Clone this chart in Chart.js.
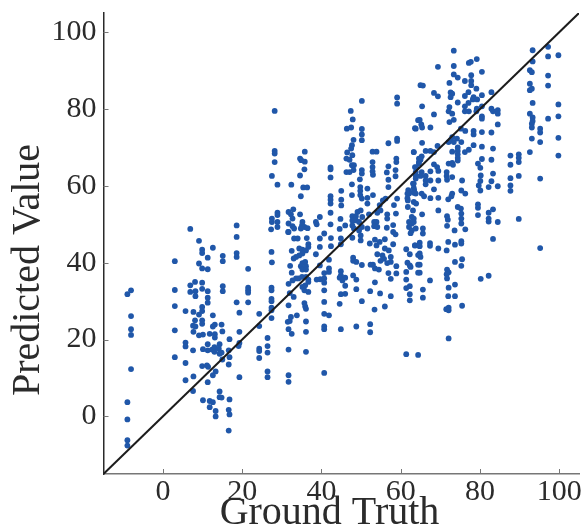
<!DOCTYPE html>
<html>

<head>
  <title>Predicted Value vs Ground Truth</title>
  <script src="https://cdn.jsdelivr.net/npm/chart.js"></script>
  <style>
    html, body { margin: 0; padding: 0; background: #fff; overflow: hidden; }
    #chart { display: block; }
  </style>
</head>

<body>
  <canvas id="chart" width="583" height="526" style="width:583px;height:526px"></canvas>

  <script>
    const xTicks = [0, 20, 40, 60, 80, 100];
    const yTicks = [0, 20, 40, 60, 80, 100];
    const identityLine = [-15, 105];

    // ground truth, one row per group of nearby columns
    const groundTruth = [
      -8.05,-8.97,-8.05,-8.05,-8.05,-8.05,-8.97,-8.97,-8.97,-8.97,
      3,3,3,3,3,5.7,5.7,5.7,5.7,5.7,6.9,6.9,6.9,7.7,7.6,7.7,7.6,7.7,7.6,8.1,8.2,8.2,8.1,8.2,
      9.1,9.1,9.1,9.1,9.9,9.9,9.9,9.9,9.9,9.9,9.9,9.9,9.9,10.1,10.1,9.9,10.1,
      11.3,11.3,11.3,11.3,11.3,11.3,11.3,11.1,11.4,11.3,11.8,11.8,12.6,12.6,12.6,13.1,11.8,13.1,13.1,12.4,13,13,12.6,12.6,13.3,13.3,13.3,
      14.3,14.1,14.3,14.8,15,14.3,14.3,14.8,14.8,15,15.1,15.1,15.1,15.1,
      16.8,16.6,16.8,16.6,16.8,16.6,16.8,16.6,18.6,18.6,18.6,18.6,18.6,19.3,19.3,19.3,19.1,19.3,
      21.5,21.5,21.5,21.5,21.5,24.3,24.3,24.3,24.3,24.3,
      28.2,28.2,28.2,28.2,27.5,28.9,32.4,35.8,34.6,34.9,35.8,35.7,34.6,35.4,36.4,34.8,
      27.5,27.5,27.3,28.9,28.9,28.9,28.9,31.7,32.9,32.3,32.7,31.7,32.7,33.1,31.6,34.6,
      35.2,35.1,35.7,34.8,36.5,38.6,38.8,39.6,42.3,42.3,42.3,42.3,42.3,42.3,42.3,42.3,
      45,45,45,44.8,46,44.6,47.4,47.9,46.4,47.5,50.2,50.2,50.2,50.2,48.1,47.7,47.5,46.5,47.8,46.3,47.1,47.7,48.2,
      46.3,47.1,48.1,50.2,50.2,49.7,47.7,47.7,49.8,49.8,49.8,50.2,51.6,51.6,53,51.6,
      52.9,53.9,52.9,52.9,52.9,53,56.9,56.9,56.5,56.9,56.9,59.1,59.1,59.1,59.1,58.9,58.9,58.7,58.7,
      63.8,63.3,63.9,63.8,64.4,64.6,64.6,63.8,63.1,63.4,63.8,61.9,61.7,61.8,61.8,63.3,63.9,63.1,
      56.2,55.5,54.7,54.9,54.1,58.3,59.1,49.9,49.1,52,47.8,48.7,47.8,48.7,47.8,48.2,49.5,50.3,50.2,49.5,51.6,
      53.3,53.9,53.3,54.1,56.6,56.6,56.5,58.1,58.8,58.1,58.7,62.8,63.3,62.1,62.8,63.3,62.1,62.8,63.8,
      73.4,69.4,73.4,73.4,74.4,77.2,77.7,79.2,80.5,77.8,77.8,77.8,76.2,72.3,65,65.6,68.4,69.4,
      72.6,73,72.6,77.1,76.2,79.1,80.5,82.9,78.4,78.2,79.3,77.1,76.2,74.4,76.2,77.2,72.3,72.1,73,65.4,68.4,
      79.2,80.5,79.1,82.9,83.3,84.5,84.5,80.5,80.5,84.5,73.4,72.3,64.8,65.2,65.4,63.6,67.5,75.2,76.3,
      78.4,78.4,80.5,82.9,73,72.6,72.1,74.2,75.3,73.4,65.4,69.3,78.4,80.5,83.3,66.3,67.5,68.4,63.3,73,
      74.4,74.4,74.4,74.4,74.4,77.2,76.2,65.3,65,64.6,80.5,82.9,87.7,87.7,89.8,89.8,89.8,92.6,
      93.3,93.3,97.2,97.2,99.8,92.6,93.1,97.2,97.2,92.6,92.6,93.1,93.3,92.6,93.3,93.3,93.1,93.1,99.8,99.8,97.2,95.2,95.2,93.1,95.2,99.8,99.8,
      68.4,69.2,69.5,72.1,73,73.2,79.5,80.1,63.6,65.3,65,66.3,67.5,71.6,71.6,71.7,73,80.2,83.3,87.7,89.8,95.2,63.8,
      75.5,80.1,79.7,82.9,82.2,84.5,66.3,66.3,67.5,69.5,63.3,63.3,62.1,62.1,63.3,68.4,87.7,87.7,75.3,76.3,80.1,73,72.8,
      65.3,65.9,67.5,69.5,72,61.7,
      65.4,69.5,74.4,75.2,75.3,75.3,75.3,76.3,79.5,79.5,79.5,82.2,83.3,82.2,82.2,84.5,89.8,71.7,71.9,71.7,73.6,65.6,65.6,
      63.6,64.8,64.8,67.4,67.4,69.5,72,73.7,75.3,75.3,71.6,83.3,95.2,64.8,65,64.8,64.8,73.7,75.5,75.3,71.7,72.1,71.6,71.7,67.4,
      80.2,82.2,73.7,72.1,65.6,65.6,72,73.7,75.5,71.5,72.1,72.1,72.1,
      27.4,27.5,27.4,27.4,27.4,27.4,27.4,27.4,27.4,26.4,26.4,26.4,26.4,26.4,31.7,33.1,34,36.3,32.5,34.4,35.2,
      36.7,36.7,36.1,35.2,34.4,33.6,33,39.6,38.6,32.1,35.2,35.9,34.8,36.1,35.2,36.1,32.5,33.6,32.7,31.7,
      35.1,34.2,36.1,36.7,36.7,35.9,35.2,35.7,36.7,32,33,31.7,35.7,35.9,36.1,32.3,32,31.5,33.8,31.7,32.5,36.1,36.1,31.7,36.1,31.7,31.7,40.7,
      39.6,40.7,42.4,44.9,42.4,39.6,41.9,40.7,41.9,41.9,38.8,39.7,40.7,40.7,40.7,40.7,40.7,41.9,40.7,40.7,
      44.9,44.9,44.6,46,45.3,46,44.9,46,44.6,44.9,48,48,48.8,50.2,48,48.8,48.8,50.2,48.8,
      52.4,53,53.5,54.5,53.5,52.3,54.8,53.4,56,52.3,52.3,52.2,53.5,53.9,54.7,56,54.1,55.4,56,57,57.5,
      54.9,55.8,56.6,57.5,58.9,56.9,58.9,57.5,57.5,58.1,61.4,62.3,63.6,64.6,64.4,64.4,64.4,61.7,62.3,62.5,
      61.4,61.4,61.4,62.3,62.3,62.3,61.4,64.4,49.9,49.9,47.8,44.9,62.5
    ];

    const predictedValue = [
      32.8,31.8,26.1,22.7,21.2,12.3,3.7,-0.8,-6.2,-7.6,
      40.4,32.9,28.7,22.4,15.4,27.4,19.2,18.2,13.9,9.4,48.8,34.1,32.4,27.2,23.6,22,17.2,10.4,6.6,35,32.6,31.3,25,23.4,
      45.7,39.8,26.5,21.1,43.4,42.5,38.5,34.8,33.2,28.5,27.4,25,24.1,21.3,17.5,13.1,4.2,
      41.3,38.3,32.6,30.9,29.6,18.8,17.2,13.3,12.9,8.9,4,2.4,43.9,26.3,23.4,23.9,21.5,21.4,20.5,17.4,18,16.8,3.7,10.7,11.7,1.4,0,
      18.8,17.6,16.3,16.6,14.8,6.5,5,4.9,23.9,22.1,41.8,40.4,33.9,32.6,
      20.1,17.2,15.4,13.5,4.4,1.7,0.5,-3.7,49.7,46.7,42.5,41.5,29.7,27,22,19.1,18.3,10.2,
      38.4,33.5,32.8,32.2,29.7,26.7,23.5,17.6,17,15.2,
      79.5,69.1,68.4,66.2,62.6,60.3,60.3,68.9,67.1,66.7,66.3,64.3,62.7,59.6,59.6,57.3,
      51.5,50.6,48.7,53,52.4,50.6,49.3,53.2,53.9,52.6,51.5,50.2,49.5,48.9,48,52.6,
      50.6,49.7,49.3,48.9,49,50.6,50,51.9,64.8,64.3,62.2,57.3,56.4,55.4,53,50,
      58.7,56.4,54.9,51.4,49.7,48.8,79.5,77.3,74.9,75.2,82.1,74.8,73.4,71.9,72,70.6,69.7,68.7,68,67.1,66.8,65.4,65.4,
      63.6,63.6,64.1,64.1,63.2,61.7,60.4,57.6,59.7,58.7,57.6,56.7,59.3,56.9,57.6,55.4,
      68.9,68.9,66.2,64.9,63.8,62.9,71.1,65.1,63.5,61.6,59.7,83,81.4,72.3,71.7,67.1,66.2,64.1,62.5,
      74.9,68.8,64.8,63.6,77.1,67.1,65.8,61.9,60.6,58.9,58,58.9,58,56.2,54.5,55.8,55.4,53.6,
      56.7,56.2,55,53.6,53,55,56.7,53.6,53.2,52.6,52.1,52.1,51,51,49.7,48.9,50.6,51.9,49.3,48.4,48.9,
      50.6,50.6,49.5,49.3,52.6,51.5,49.1,49.8,52.8,48,47.4,51.9,51.5,50.6,50.2,50.6,49.3,48.4,48.9,
      95.2,91,91.2,89,88.2,92,92.3,93,89.7,88.8,87.3,86.2,87.3,86.8,86.2,86.1,84.2,83.3,
      84.3,84,83.1,84.4,83.4,85.3,83.6,84.4,83.1,82.5,82.5,81.6,80.7,81.7,79.4,79.4,80.5,79.4,78.8,80.7,78.6,
      80.1,80.7,79.4,80.1,79.4,79.7,78.8,78.1,77.5,76,77.2,76.6,77.2,76,75.2,75,75.2,74.9,74.3,
      74.3,73.4,74,73.9,72.7,71.9,71.4,72.3,71.4,71.4,71.2,70.4,70.6,70.2,69.7,69.1,69.1,68.8,68.8,68.9,
      70,69.1,68.2,67.3,66.6,69.4,68.8,67.7,66.8,66.2,67,66.8,67.9,65.5,68.2,67.3,66.2,68.8,
      95.3,92.4,96.2,93.7,94,90.1,89.6,88.7,86.1,86.6,84.9,85.3,81.6,78.8,77.8,76.9,76.2,75.2,81.2,78.1,77.5,74.9,73.9,72.3,71.4,72.5,67.9,
      65.6,64.9,63.9,65.8,66,65.5,65.8,64.7,64.9,63.6,62.6,62.6,63.8,63.6,62.6,61.6,62.3,62.7,63.2,62,62.6,61.9,62.6,
      61.4,61.3,60.1,61.2,59.7,59.9,61.4,60.4,61.4,61.4,60.6,59.5,58.6,58,58.2,59.1,60.1,58.7,58.8,58,58.8,58,57.3,
      58,57.3,56.8,56.9,56.5,56.8,
      52.6,53.6,54.5,54.1,52.8,51.5,50.2,48.7,55.2,54.3,52.4,53,53.9,51.5,50.7,50.6,51.4,52.1,51.2,49.6,48.4,48.9,47.6,
      44.5,45.2,44.3,45.1,44.4,43.7,45.4,44.7,45.6,45,43.2,46.2,43.8,42.4,41.5,39.5,37.4,40.2,40.9,39.2,38.2,37.5,37,35.9,35.4,
      35.8,36.6,34.3,33.5,33,30.9,31.3,31.3,28.8,27.9,28.3,27.6,20.3,
      42.8,40.1,33.5,32.8,30.6,30,28.3,27.6,25.6,20.4,18.3,16.6,11.7,10.2,48,46.3,46.3,46.4,43.1,43.7,43.4,
      44.8,44.1,43.2,42.4,41.9,41.5,41.1,44.1,42.2,39.2,39.9,40.2,39.1,39.1,38.2,38.2,37.4,35.9,35.4,34.5,
      36.3,35.9,36.3,35.6,35,34.1,33.7,32.8,32.4,32.1,31.1,28.9,29.5,28.6,28,25.9,24.8,24.6,26.3,22.7,21.5,24.7,22,17.4,16.8,10.7,9,11.3,
      46.3,47.6,46.4,44.8,44.3,39.3,40.8,37.3,38.5,37.6,35.6,35.7,35.9,34.8,32.8,29.8,26.7,26.3,23.4,22.7,
      37.8,36.7,36.1,36.1,35.4,34,31.8,31.9,29.3,22.7,41.3,40.5,40.2,39.4,36.7,35.6,33.1,30,23.4,
      39.5,39.5,38.5,38.2,34.9,32.6,32,27.8,28.6,24,21.9,45,46,44.5,45.4,46.1,42.2,41.9,43.7,43.2,41.5,
      40.5,41,39.9,40.2,39.1,37.3,37.2,35.8,31.3,44.8,43.5,42.2,44.5,44.5,42,39.5,37.4,40,39.3,38.9,
      37.6,35.6,33.4,33.9,31.8,30.2,16.2,16,45.8,47.1,46.5,46.3,47.7
    ];

    const points = groundTruth.map(function (x, i) {
      return { x: x, y: predictedValue[i] };
    });

    const serifFont = '"Liberation Serif", "DejaVu Serif", serif';
    const textColor = '#2b2b2b';
    const tickColor = '#777';

    // axis titles in the source sit off-centre from the plot, and its ticks point inward
    const axisExtras = {
      id: 'axisExtras',
      afterDraw: function (c) {
        var g = c.ctx;
        var area = c.chartArea;
        g.save();
        g.strokeStyle = tickColor;
        g.lineWidth = 1;
        g.beginPath();
        xTicks.forEach(function (v) {
          var px = Math.round(c.scales.x.getPixelForValue(v)) + 0.5;
          g.moveTo(px, area.bottom);
          g.lineTo(px, area.bottom - 5);
        });
        yTicks.forEach(function (v) {
          var py = Math.round(c.scales.y.getPixelForValue(v)) + 0.5;
          g.moveTo(area.left, py);
          g.lineTo(area.left + 5, py);
        });
        g.stroke();

        g.fillStyle = textColor;
        g.font = '40px ' + serifFont;
        g.textAlign = 'center';
        g.textBaseline = 'alphabetic';
        g.fillText('Ground Truth', 329.5, 524);
        g.translate(39, 270);
        g.rotate(-Math.PI / 2);
        g.fillText('Predicted Value', 0, 0);
        g.restore();
      }
    };

    var ctx = document.getElementById('chart').getContext('2d');
    var chart = new Chart(ctx, {
      type: 'scatter',
      data: {
        datasets: [{
          // first dataset is painted on top
          label: 'Identity',
          data: identityLine.map(function (v) { return { x: v, y: v }; }),
          showLine: true,
          borderColor: '#1c1c1c',
          borderWidth: 2,
          pointRadius: 0,
        }, {
          label: 'Samples',
          data: points,
          backgroundColor: '#2057a9',
          borderWidth: 0,
          pointRadius: 2.9,
        }]
      },
      plugins: [axisExtras],
      options: {
        responsive: false,
        animation: false,
        layout: { padding: { top: 13, right: 2.5, left: 0, bottom: 0 } },
        plugins: {
          legend: { display: false },
          tooltip: { enabled: false }
        },
        scales: {
          x: {
            type: 'linear',
            min: -15,
            max: 105,
            afterBuildTicks: function (scale) {
              scale.ticks = xTicks.map(function (v) { return { value: v }; });
            },
            afterFit: function (scale) {
              scale.height = 52;
              scale.paddingLeft = 0;
              scale.paddingRight = 0;
            },
            border: { color: '#777', width: 1.5 },
            grid: { drawOnChartArea: false, drawTicks: false },
            ticks: {
              color: textColor,
              maxRotation: 0,
              autoSkip: false,
              padding: 0,
              font: { family: serifFont, size: 30 }
            }
          },
          y: {
            type: 'linear',
            min: -15,
            max: 105,
            afterBuildTicks: function (scale) {
              scale.ticks = yTicks.map(function (v) { return { value: v }; });
            },
            afterFit: function (scale) {
              scale.width = 103.5;
              scale.paddingTop = 0;
              scale.paddingBottom = 0;
            },
            border: { color: '#2a2a2a', width: 1.5 },
            grid: { drawOnChartArea: false, drawTicks: false },
            ticks: {
              color: textColor,
              autoSkip: false,
              padding: 7,
              font: { family: serifFont, size: 30 }
            }
          }
        }
      }
    });
  </script>
</body>

</html>
